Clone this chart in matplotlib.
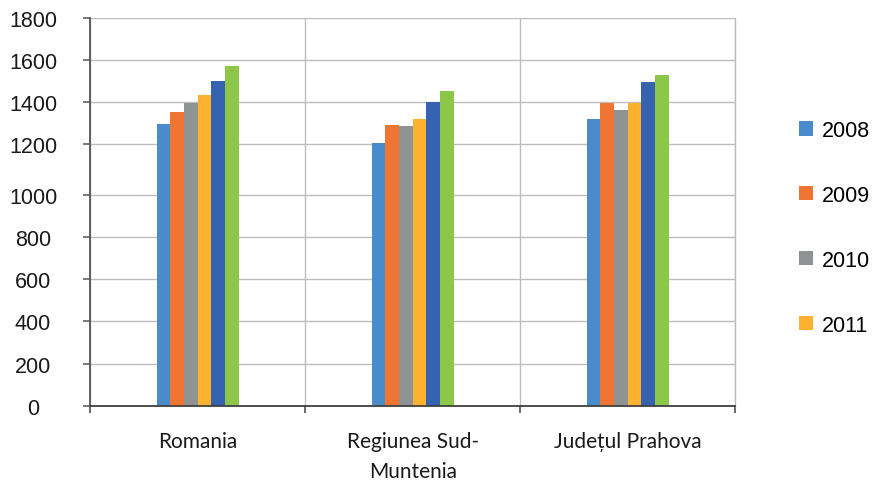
import numpy as np
import matplotlib
matplotlib.use("Agg")
import matplotlib.pyplot as plt
from matplotlib.patches import Patch

# ---- data ----
categories = ["Romania", "Regiunea Sud-\nMuntenia", "Județul Prahova"]
years = ["2008", "2009", "2010", "2011", "2012", "2013"]
v2008 = [1295, 1205, 1320]
v2009 = [1352, 1290, 1397]
v2010 = [1397, 1286, 1362]
v2011 = [1433, 1319, 1397]
v2012 = [1500, 1400, 1495]
v2013 = [1571, 1452, 1529]
series = [v2008, v2009, v2010, v2011, v2012, v2013]
colors = ["#4A8BCB", "#F07533", "#8F9394", "#FDB22F", "#3563AF", "#8CC74A"]
yticks = [0, 200, 400, 600, 800, 1000, 1200, 1400, 1600, 1800]

# piecewise scale reproducing the reference's uneven gap between 1000 and 1200
_kv = [-1e6, 0, 1000, 1200, 1800, 1e6]
_kp = [-1e6, 0, 1000, 1240, 1840, 1e6 + 40]
def fwd(v):
    return np.interp(v, _kv, _kp)
def inv(p):
    return np.interp(p, _kp, _kv)

W, H = 876, 481
fig = plt.figure(figsize=(W / 100, H / 100), dpi=100)
ax = fig.add_axes([90 / W, 1 - 406.7 / H, (735.3 - 90) / W, (406.7 - 18.7) / H])
ax.set_yscale("function", functions=(fwd, inv))

x = np.arange(len(categories))
bw = 0.0635
n = len(series)
for i, (vals, c) in enumerate(zip(series, colors)):
    ax.bar(x + (i - (n - 1) / 2) * bw, vals, width=bw, color=c, zorder=3, linewidth=0)

ax.set_xlim(-0.5, len(categories) - 0.5)
ax.set_ylim(0, 1800)
ax.set_yticks(yticks)
ax.set_yticklabels([str(t) for t in yticks], fontfamily="Liberation Sans", fontsize=15.5, color="#1a1a1a")
for lab in ax.get_yticklabels():
    lab.set_horizontalalignment("center")
ax.tick_params(axis="y", direction="out", length=5, width=1.1, color="#555555", pad=36)

ax.set_xticks(x)
ax.set_xticklabels(categories, fontfamily="Lato", fontsize=15, color="#1a1a1a", linespacing=1.62,
                   va="top")
ax.set_xticks(np.arange(-0.5, len(categories)), minor=True)
ax.tick_params(axis="x", which="major", length=0, pad=18)
ax.tick_params(axis="x", which="minor", direction="out", length=5, width=1.1, color="#404040")

ax.grid(axis="y", which="major", color="#BDBDBD", linewidth=1.0, zorder=0)
ax.grid(axis="x", which="minor", color="#BDBDBD", linewidth=1.0, zorder=0)
ax.grid(axis="x", which="major", visible=False)

ax.spines["top"].set_visible(False)
ax.spines["right"].set_color("#BDBDBD")
ax.spines["right"].set_linewidth(1.0)
ax.spines["left"].set_color("#555555")
ax.spines["left"].set_linewidth(1.3)
ax.spines["bottom"].set_color("#404040")
ax.spines["bottom"].set_linewidth(1.3)
ax.spines["bottom"].set_zorder(4)

handles = [Patch(facecolor=c, edgecolor="none") for c in colors[:4]]
fig.legend(handles, years[:4], loc="upper left", bbox_to_anchor=(799 / W, 1 - 121 / H),
           frameon=False, prop={"family": "Liberation Sans", "size": 15.5},
           handlelength=0.64, handleheight=0.64, handletextpad=0.43, labelspacing=2.04,
           borderaxespad=0, borderpad=0)

fig.savefig("out.png", dpi=100, facecolor="white")
